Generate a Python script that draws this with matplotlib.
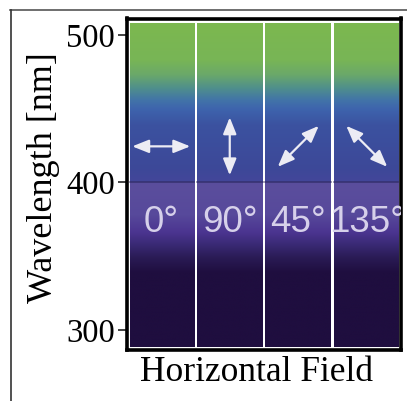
import numpy as np
import matplotlib
matplotlib.use("Agg")
import matplotlib.pyplot as plt
from matplotlib.patches import FancyArrowPatch
from matplotlib.lines import Line2D
from matplotlib.colors import to_rgb

# ---------------- data ----------------
field_labels = ["0°", "90°", "45°", "135°"]
field_angles = [0, 90, 45, 135]          # polarisation direction (deg)
y_ticks = [300, 400, 500]
y_label = "Wavelength [nm]"
x_label = "Horizontal Field"
wl_min, wl_max = 288.5, 508.0             # wavelength range of the colour bars

# colour of the spectral bar along wavelength
stop_wl = [288, 339, 349, 358, 366, 378, 399.4, 400.6, 409, 439, 450, 456, 464, 473, 483, 508]
stop_colors = ["#1f0e3f", "#1f0e3f", "#2a1b55", "#3a2a75", "#4b3490", "#57499b",
               "#5b4e9d", "#43469a", "#3d4898", "#3b52a0", "#3e64ad", "#4274a8",
               "#4f8f8c", "#6aa86a", "#78b556", "#7cb84f"]

label_wl = 373      # wavelength at which the angle labels sit
arrow_wl = 424.5    # wavelength at which the arrows sit

# ---------------- figure ----------------
W, H, DPI = 407, 401, 100
fig = plt.figure(figsize=(W / DPI, H / DPI), dpi=DPI)
fig.patch.set_facecolor("white")

# screenshot frame lines
fig.add_artist(Line2D([10 / W, 1], [1 - 9.5 / H, 1 - 9.5 / H], transform=fig.transFigure,
                      color="#555555", lw=1.2))
fig.add_artist(Line2D([10.5 / W, 10.5 / W], [0, 1 - 9.5 / H], transform=fig.transFigure,
                      color="#333333", lw=1.2))

ax_l, ax_r, ax_t, ax_b = 127, 401, 18.5, 350
ax = fig.add_axes([ax_l / W, 1 - ax_b / H, (ax_r - ax_l) / W, (ax_b - ax_t) / H])
ax.set_facecolor("white")

n = len(field_labels)
ax.set_xlim(0, n)
ax.set_ylim(286.4, 511.2)

# gradient image
wl = np.linspace(wl_min, wl_max, 600)
rgb = np.array([to_rgb(c) for c in stop_colors])
grad = np.stack([np.interp(wl, stop_wl, rgb[:, k]) for k in range(3)], axis=-1)
img = grad[:, None, :]

px_x = (ax_r - ax_l) / n          # pixels per column unit
px_y = 147.5 / 100                # pixels per nm
inset = 3.0 / px_x
gap = 1.3 / px_x
for i in range(n):
    x0 = i + (inset if i == 0 else gap)
    x1 = i + 1 - (inset if i == n - 1 else gap)
    ax.imshow(img, extent=[x0, x1, wl_min, wl_max], origin="lower",
              aspect="auto", interpolation="bilinear", zorder=1)
    ax.plot([x0, x1], [400, 400], color="#2d2558", lw=1.2, alpha=0.6, zorder=2)
    # angle label
    ax.text(i + 0.5, label_wl, field_labels[i], ha="center", va="center",
            fontsize=26.5, family="Liberation Sans", color="#d6d0ea",
            zorder=3, clip_on=True)
    # polarisation arrow
    a = np.deg2rad(field_angles[i])
    hl = 29.0
    dx = hl / px_x * np.cos(a)
    dy = hl / px_y * np.sin(a)
    cx, cy = i + 0.5, arrow_wl
    arr = FancyArrowPatch((cx - dx, cy - dy), (cx + dx, cy + dy),
                          arrowstyle="<|-|>,head_length=0.5,head_width=0.2",
                          mutation_scale=20, lw=1.6, color="#ececf4",
                          shrinkA=0, shrinkB=0, zorder=4)
    ax.add_patch(arr)

ax.set_xlim(0, n)
ax.set_ylim(286.4, 511.2)

for s in ax.spines.values():
    s.set_linewidth(2.6)
    s.set_color("black")

ax.set_xticks([])
ax.set_yticks(y_ticks)
ax.set_yticklabels([str(t) for t in y_ticks], family="Liberation Serif", fontsize=23.5)
ax.tick_params(axis="y", length=6.5, width=1.2, pad=2, color="#222222")

ax.set_ylabel(y_label, family="Liberation Serif", fontsize=26, va="center")
ax.yaxis.set_label_coords(-0.305, 0.52)
ax.set_xlabel(x_label, family="Liberation Serif", fontsize=25.5, va="baseline")
ax.xaxis.set_label_coords(0.473, -0.0935)

fig.savefig("out.png", dpi=DPI)
